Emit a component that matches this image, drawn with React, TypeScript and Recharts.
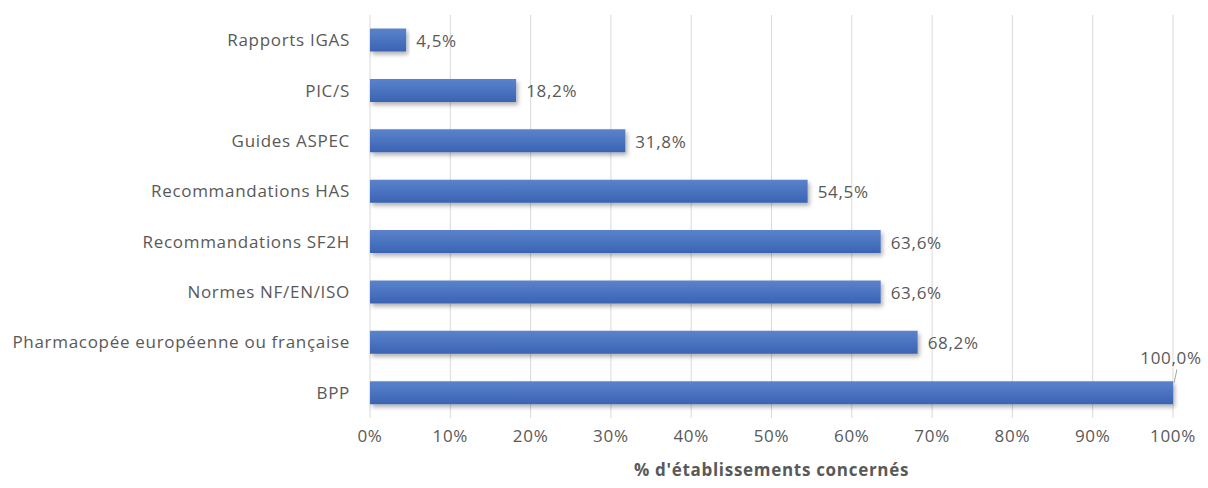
import { BarChart, Bar, XAxis, YAxis, CartesianGrid, LabelList } from 'recharts'

const categories = [
  'Rapports IGAS',
  'PIC/S',
  'Guides ASPEC',
  'Recommandations HAS',
  'Recommandations SF2H',
  'Normes NF/EN/ISO',
  'Pharmacopée européenne ou française',
  'BPP',
]
const percentages = [4.5, 18.2, 31.8, 54.5, 63.6, 63.6, 68.2, 100.0]
const xTicks = [0, 10, 20, 30, 40, 50, 60, 70, 80, 90, 100]

const data = categories.map((name, i) => ({ name, value: percentages[i] }))

const FONT = '"Open Sans", "Noto Sans", sans-serif'
const GREY = '#595959'
const SPACING = 0.7

const fmt = (v: number) => v.toFixed(1).replace('.', ',') + '%'

const CategoryTick = ({ x, y, payload }: any) => (
  <text
    x={x - 12}
    y={y}
    dy={6}
    textAnchor="end"
    fill={GREY}
    fontSize={17}
    fontFamily={FONT}
    letterSpacing={SPACING}
  >
    {payload.value}
  </text>
)

const ValueLabel = ({ x, y, width, height, value }: any) => {
  const endX = x + width
  if (value >= 100) {
    // no room on the right: put it above with a small leader line
    return (
      <g>
        <line x1={endX + 1} y1={y + 2} x2={endX + 4} y2={y - 12} stroke="#a6a6a6" strokeWidth={1} />
        <text
          x={endX - 2}
          y={y - 17}
          textAnchor="middle"
          fill={GREY}
          fontSize={17}
          fontFamily={FONT}
          letterSpacing={SPACING}
        >
          {fmt(value)}
        </text>
      </g>
    )
  }
  return (
    <text
      x={endX + 10}
      y={y + height / 2}
      dy={7}
      fill={GREY}
      fontSize={17}
      fontFamily={FONT}
      letterSpacing={SPACING}
    >
      {fmt(value)}
    </text>
  )
}

export default function App() {
  return (
    <div style={{ width: 1208, height: 488, background: '#fff' }}>
      <style>{'body{margin:0}'}</style>
      <BarChart
        width={1208}
        height={488}
        data={data}
        layout="vertical"
        margin={{ top: 15, right: 35, left: 0, bottom: 0 }}
        barCategoryGap="27%"
      >
        <defs>
          <linearGradient id="barFill" x1="0" y1="0" x2="0" y2="1">
            <stop offset="0%" stopColor="#5b83cc" />
            <stop offset="100%" stopColor="#3a63b3" />
          </linearGradient>
          <filter id="barShadow" x="-5%" y="-30%" width="115%" height="180%">
            <feDropShadow dx="2" dy="3" stdDeviation="2" floodColor="#000" floodOpacity="0.3" />
          </filter>
        </defs>
        <CartesianGrid horizontal={false} stroke="#d9d9d9" />
        <XAxis
          type="number"
          domain={[0, 100]}
          ticks={xTicks}
          tickFormatter={(v) => `${v}%`}
          axisLine={false}
          tickLine={false}
          tick={{ fill: GREY, fontSize: 17, fontFamily: FONT, letterSpacing: SPACING }}
          tickMargin={6}
          label={{
            value: "% d'établissements concernés",
            position: 'insideBottom',
            offset: 12,
            fill: GREY,
            fontSize: 17,
            fontWeight: 'bold',
            fontFamily: FONT,
            letterSpacing: SPACING,
          }}
          height={70}
        />
        <YAxis
          type="category"
          dataKey="name"
          width={370}
          axisLine={false}
          tickLine={false}
          tick={<CategoryTick />}
        />
        <Bar dataKey="value" fill="url(#barFill)" filter="url(#barShadow)" isAnimationActive={false}>
          <LabelList dataKey="value" content={<ValueLabel />} />
        </Bar>
      </BarChart>
    </div>
  )
}
